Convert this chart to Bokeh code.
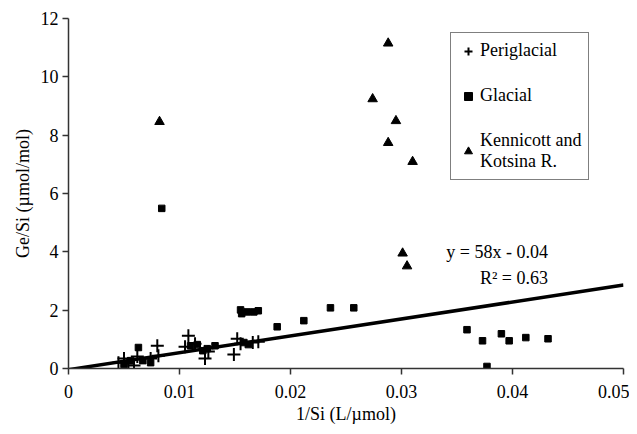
from bokeh.plotting import figure
from bokeh.models import Legend, LegendItem, Label, FixedTicker
from bokeh.embed import file_html
from bokeh.resources import INLINE

# Periglacial (crosses)
peri_x = [0.0045, 0.0050, 0.0054, 0.0059, 0.0062, 0.0074, 0.0080, 0.0081, 0.0105,
          0.0108, 0.0114, 0.0123, 0.0126, 0.0149, 0.0152, 0.0155, 0.0166, 0.0171]
peri_y = [0.20, 0.34, 0.17, 0.10, 0.41, 0.34, 0.78, 0.44, 0.75,
          1.12, 0.85, 0.34, 0.58, 0.48, 1.02, 0.85, 0.89, 0.92]

# Glacial (squares)
glac_x = [0.0084, 0.0063, 0.0050, 0.0056, 0.0067, 0.0074, 0.0110, 0.0116, 0.0121,
          0.0125, 0.0132, 0.0158, 0.0162, 0.0155, 0.0156, 0.0161, 0.0167, 0.0171,
          0.0188, 0.0212, 0.0236, 0.0257, 0.0359, 0.0373, 0.0390, 0.0397, 0.0412,
          0.0432, 0.0377]
glac_y = [5.49, 0.72, 0.14, 0.27, 0.27, 0.20, 0.78, 0.82, 0.61,
          0.68, 0.78, 0.89, 0.82, 2.01, 1.88, 1.94, 1.94, 1.98,
          1.43, 1.64, 2.08, 2.08, 1.33, 0.95, 1.19, 0.95, 1.06,
          1.02, 0.07]

# Kennicott and Kotsina R. (triangles)
kenn_x = [0.0082, 0.0288, 0.0274, 0.0295, 0.0288, 0.0310, 0.0301, 0.0305]
kenn_y = [8.46, 11.15, 9.24, 8.49, 7.74, 7.09, 3.95, 3.51]

# Regression
slope = 58.0
intercept = -0.04
fit_x = [0.0, 0.05]
fit_y = [slope * v + intercept for v in fit_x]

x_ticks = [0, 0.01, 0.02, 0.03, 0.04, 0.05]
x_tick_labels = ["0", "0.01", "0.02", "0.03", "0.04", "0.05"]
y_ticks = [0, 2, 4, 6, 8, 10, 12]

FONT = "Liberation Serif"

p = figure(width=629, height=426, output_backend="svg", toolbar_location=None,
           x_range=(0, 0.05), y_range=(0, 12),
           min_border_left=68, min_border_right=6, min_border_top=18, min_border_bottom=56)
p.outline_line_color = None
p.grid.visible = False
p.background_fill_color = "white"
p.border_fill_color = "white"

p.line(fit_x, fit_y, line_color="black", line_width=3.5)
r_peri = p.scatter(peri_x, peri_y, marker="cross", size=13, line_width=2, line_color="black")
r_glac = p.scatter(glac_x, glac_y, marker="square", size=6.5, fill_color="black", line_color="black")
r_kenn = p.scatter(kenn_x, kenn_y, marker="triangle", size=9.5, fill_color="black", line_color="black")

for ax in (p.xaxis[0], p.yaxis[0]):
    ax.axis_line_color = "#333333"
    ax.axis_line_width = 1.5
    ax.major_tick_line_color = "#333333"
    ax.major_tick_line_width = 1.5
    ax.major_tick_in = 0
    ax.major_tick_out = 6
    ax.minor_tick_line_color = None
    ax.major_label_text_font = FONT
    ax.major_label_text_font_size = "18px"
    ax.major_label_text_color = "black"
    ax.axis_label_text_font = FONT
    ax.axis_label_text_font_size = "18px"
    ax.axis_label_text_font_style = "normal"
    ax.axis_label_text_color = "black"

p.xaxis.ticker = FixedTicker(ticks=x_ticks)
p.xaxis.major_label_overrides = {t: l for t, l in zip(x_ticks, x_tick_labels)}
p.yaxis.ticker = FixedTicker(ticks=y_ticks)
p.xaxis.axis_label = "1/Si (L/\u00b5mol)"
p.yaxis.axis_label = "Ge/Si (\u00b5mol/mol)"
p.xaxis.major_label_standoff = 10
p.yaxis.major_label_standoff = 4
p.xaxis.axis_label_standoff = 3
p.yaxis.axis_label_standoff = 5

p.add_layout(Label(x=0.0432, y=3.99, text="y = 58x - 0.04", text_align="right",
                   text_baseline="middle", text_font=FONT, text_font_size="18px",
                   text_color="black"))
p.add_layout(Label(x=0.0432, y=3.12, text="R\u00b2 = 0.63", text_align="right",
                   text_baseline="middle", text_font=FONT, text_font_size="18px",
                   text_color="black"))

legend = Legend(items=[
    LegendItem(label="Periglacial", renderers=[r_peri]),
    LegendItem(label="Glacial", renderers=[r_glac]),
    LegendItem(label="Kennicott and\nKotsina R.", renderers=[r_kenn]),
], location=(382, 188))
legend.label_text_font = FONT
legend.label_text_font_size = "18px"
legend.label_text_color = "black"
legend.border_line_color = "black"
legend.border_line_width = 1
legend.background_fill_color = "white"
legend.background_fill_alpha = 1
legend.padding = 7
legend.margin = 0
legend.spacing = 24
legend.glyph_width = 20
legend.glyph_height = 20
legend.label_standoff = 2
legend.label_height = 20
p.add_layout(legend, "center")

open("out.html", "w").write(file_html(p, INLINE))
